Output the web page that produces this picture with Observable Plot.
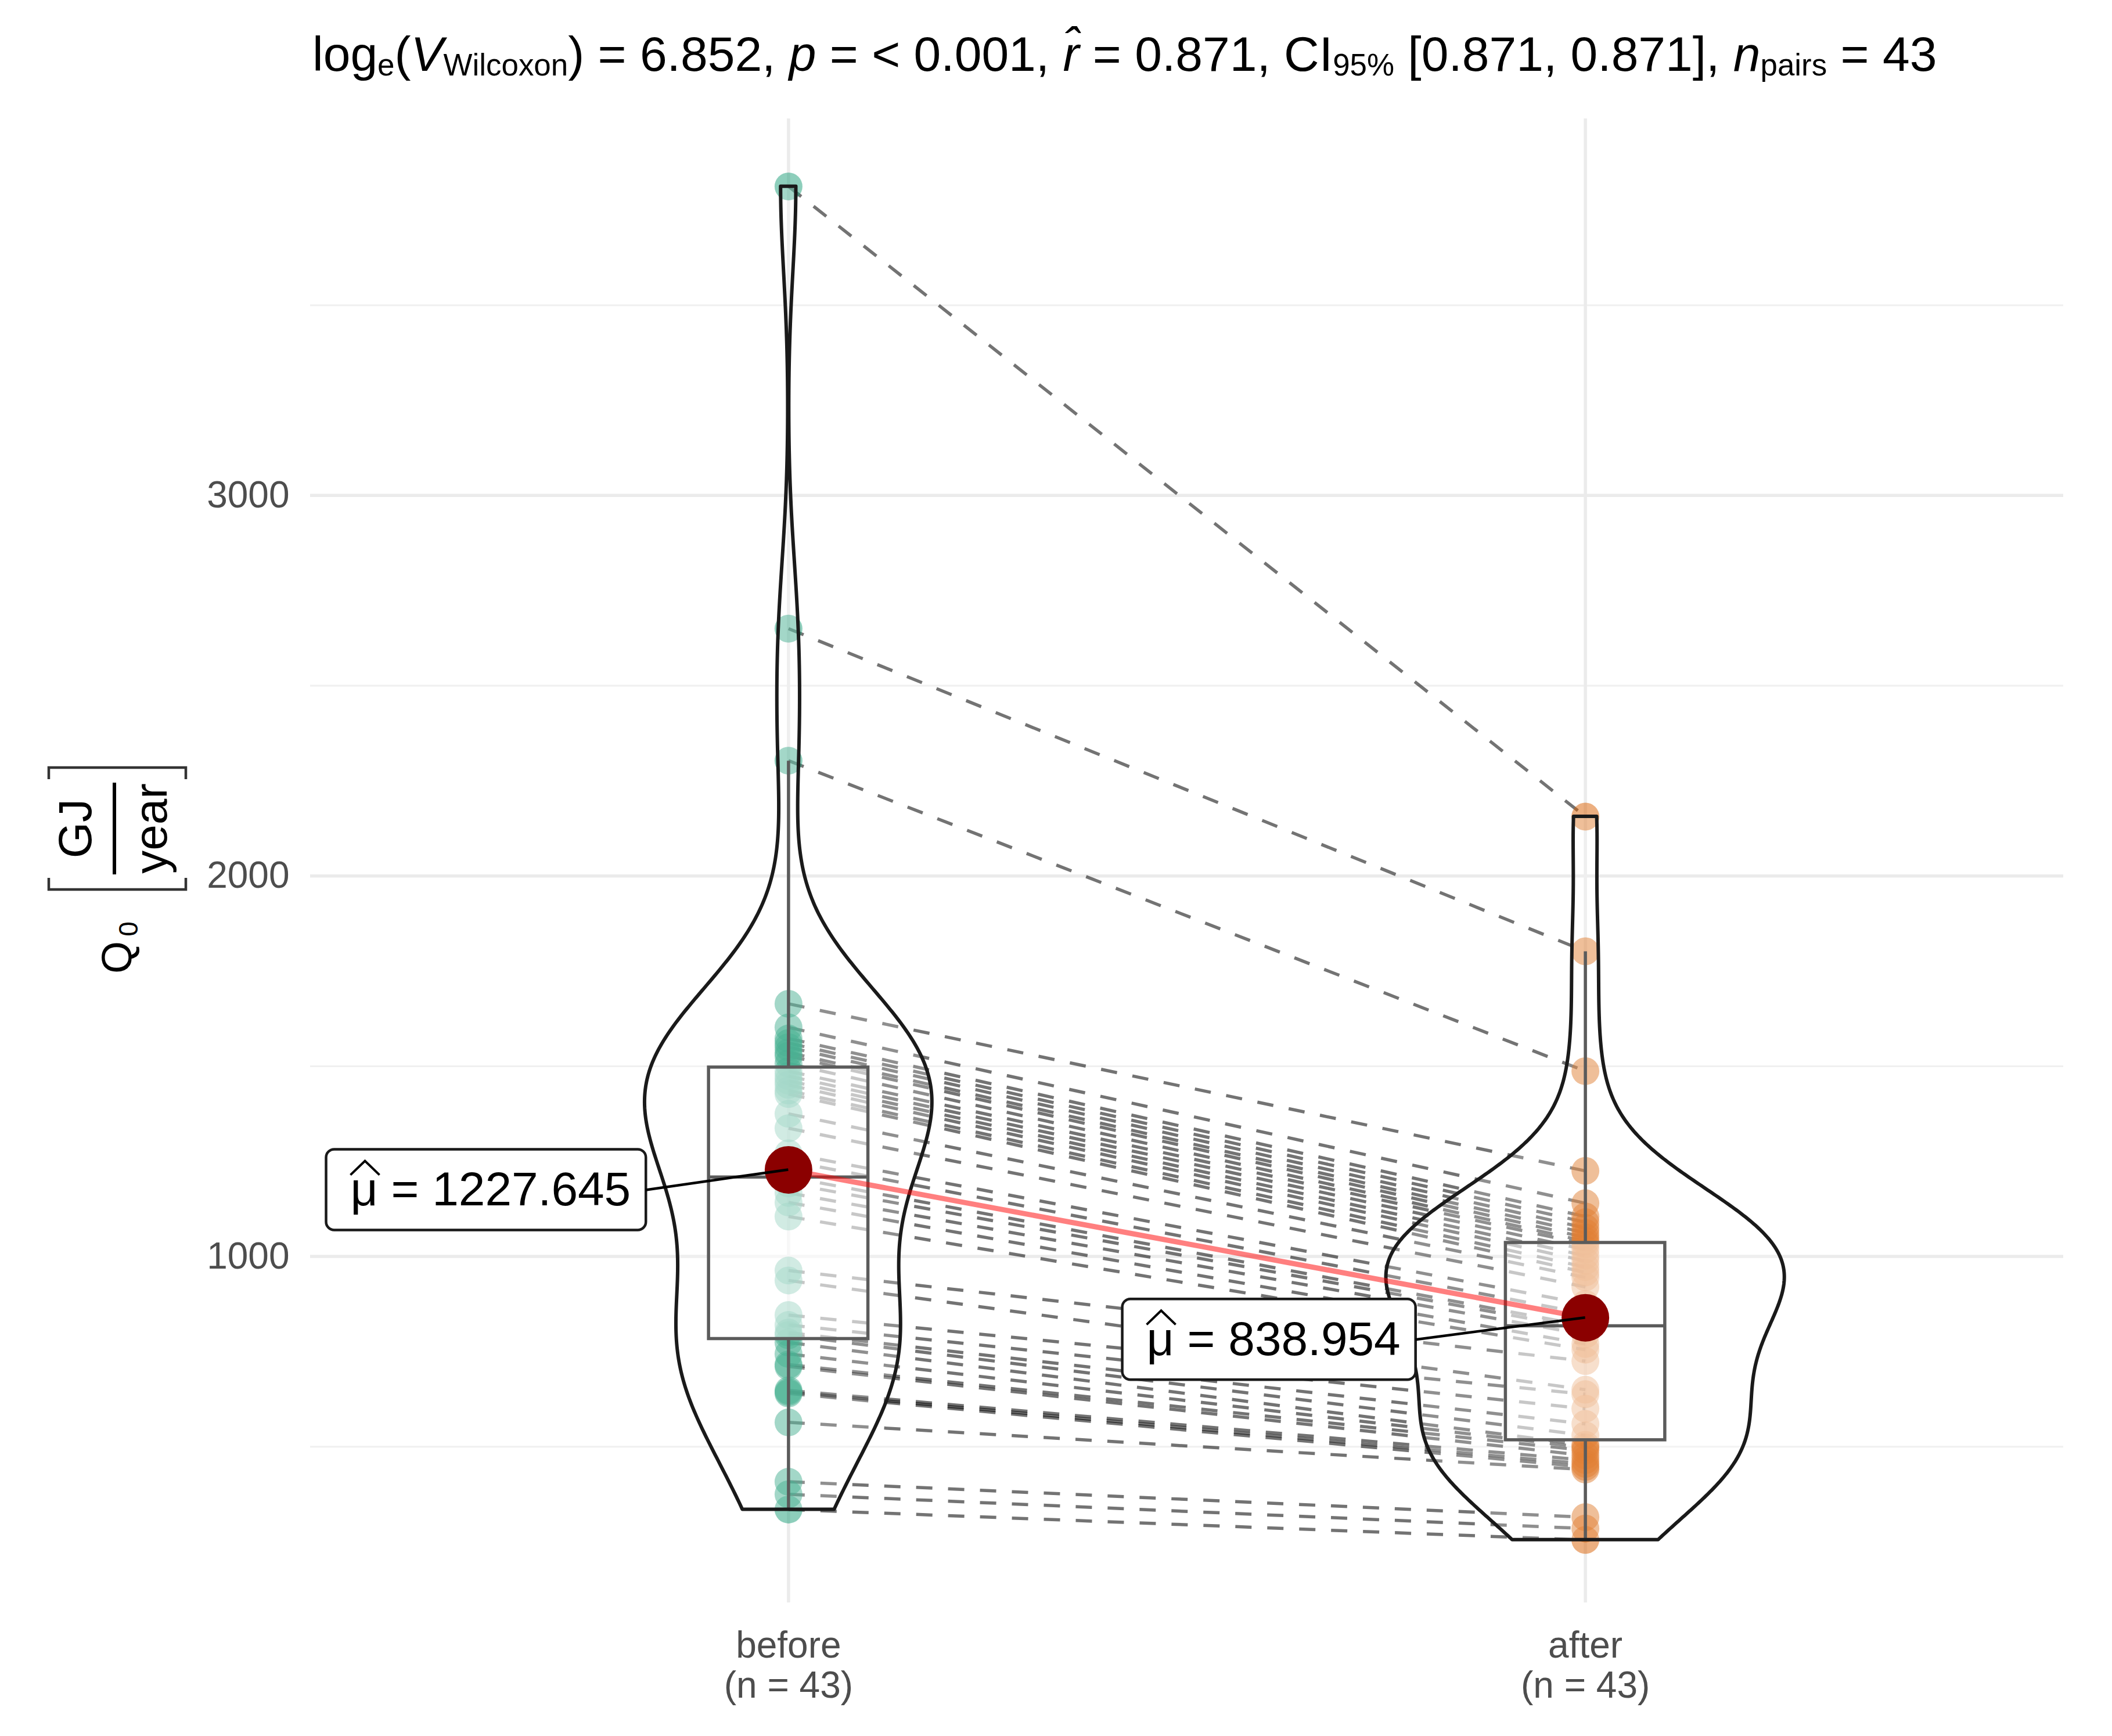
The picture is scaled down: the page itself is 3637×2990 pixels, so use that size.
<!DOCTYPE html>
<html><head><meta charset="utf-8">
<script src="https://cdn.jsdelivr.net/npm/d3@7"></script>
<script src="https://cdn.jsdelivr.net/npm/@observablehq/plot@0.6"></script>
<style>
html,body{margin:0;padding:0;background:#fff;}
#title{height:190px;box-sizing:border-box;padding-left:538px;padding-top:51px;font-family:"Liberation Sans",Arial,sans-serif;font-size:84px;line-height:1;white-space:nowrap;color:#000;}
#title sub{font-size:0.63em;vertical-align:-8px;line-height:0;}
#chart svg{display:block;}
</style></head><body>
<div id="title">log<sub>e</sub>(<i>V</i><sub>Wilcoxon</sub>) = 6.852, <i>p</i> = &lt; 0.001, <i>r&#770;</i> = 0.871, CI<sub>95%</sub> [0.871, 0.871], <i>n</i><sub>pairs</sub> = 43</div>
<div id="chart"></div>
<script>
// ---- data (paired: before[i] -> after[i]) ----
const groups = ["before", "after"];
const groupCounts = ["(n = 43)", "(n = 43)"];
const groupColors = ["#1B9E77", "#D95F02"];
const before = [3812, 2650, 2303, 1664, 1602, 1573, 1561, 1550, 1536, 1527, 1507, 1487, 1474, 1462, 1451, 1436, 1427, 1375, 1337, 1271, 1251,
  1209, 1192, 1167, 1142, 1105, 963, 937, 846, 820, 800, 793, 774, 744, 716, 711, 648, 644, 640, 564, 408, 375, 335];
const after = [2156, 1802, 1487, 1225, 1140, 1105, 1090, 1075, 1062, 1050, 1040, 1032, 1018, 1002, 988, 972, 958, 945, 920, 875, 850,
  818, 810, 795, 770, 755, 725, 650, 638, 600, 560, 530, 505, 498, 490, 477, 465, 455, 447, 440, 315, 285, 255];
const meanLabels = ["1227.645", "838.954"];
const yTicks = [1000, 2000, 3000];
const yMinorGrid = [500, 1500, 2500, 3500];

const FONT = '"Liberation Sans", Arial, sans-serif';
const series = [before, after];

function boxStats(v) {
  const s = v.slice().sort(d3.ascending);
  const q1 = d3.quantileSorted(s, 0.25), med = d3.quantileSorted(s, 0.5), q3 = d3.quantileSorted(s, 0.75);
  const iqr = q3 - q1;
  return {q1, med, q3, hi: d3.max(s.filter(x => x <= q3 + 1.5 * iqr)), lo: d3.min(s.filter(x => x >= q1 - 1.5 * iqr))};
}
function bwNrd0(v) {
  const s = v.slice().sort(d3.ascending);
  const iqr = d3.quantileSorted(s, 0.75) - d3.quantileSorted(s, 0.25);
  return 0.9 * Math.min(d3.deviation(v), iqr / 1.34) * Math.pow(v.length, -0.2);
}
function kde(v, n = 512) {
  const bw = bwNrd0(v), [mn, mx] = d3.extent(v), out = [];
  for (let i = 0; i < n; i++) {
    const y = mn + (mx - mn) * i / (n - 1);
    let s = 0;
    for (const x of v) { const z = (y - x) / bw; s += Math.exp(-0.5 * z * z); }
    out.push({y, d: s / (v.length * bw * Math.sqrt(2 * Math.PI))});
  }
  return out;
}

const dens = series.map(v => kde(v));
const maxD = d3.max(dens.flat(), d => d.d);
const violinRows = dens.flatMap((arr, g) => arr.map(p => ({g, y: p.y, x1: g + 1 - 0.25 * p.d / maxD, x2: g + 1 + 0.25 * p.d / maxD})));
const boxes = series.map((v, g) => ({g, pos: g + 1, ...boxStats(v)}));
const means = series.map((v, g) => ({g, pos: g + 1, m: d3.mean(v)}));
const pairRows = before.map((b, i) => ({b, a: after[i]}));
const pointRows = series.map((v, g) => v.map(val => ({pos: g + 1, v: val})));
const labelDx = [-513, -537], labelDy = [35, 38];

const plot = Plot.plot({
  width: 3637, height: 2800,
  marginLeft: 534, marginRight: 84, marginTop: 14, marginBottom: 230,
  x: {domain: [0.4, 2.6], axis: null},
  y: {domain: [90, 3990], axis: null},
  style: {fontFamily: FONT, background: "white", overflow: "visible"},
  marks: [
    Plot.ruleY(yMinorGrid, {stroke: "#F0F0F0", strokeWidth: 3}),
    Plot.ruleY(yTicks, {stroke: "#EBEBEB", strokeWidth: 5.5}),
    Plot.ruleX([1, 2], {stroke: "#EBEBEB", strokeWidth: 5.5}),
    Plot.text(yTicks, {y: d => d, text: d => String(d), frameAnchor: "left", textAnchor: "end", dx: -36, fontSize: 64, fill: "#4D4D4D"}),
    Plot.text(groups, {x: (d, i) => i + 1, text: d => d, frameAnchor: "bottom", dy: 94, fontSize: 64, fill: "#4D4D4D"}),
    Plot.text(groupCounts, {x: (d, i) => i + 1, text: d => d, frameAnchor: "bottom", dy: 163, fontSize: 64, fill: "#4D4D4D"}),
    // paired dashed paths
    Plot.link(pairRows, {x1: () => 1, y1: "b", x2: () => 2, y2: "a", stroke: "black", strokeOpacity: 0.55, strokeWidth: 5.5, strokeDasharray: "28,27"}),
    // points
    Plot.dot(pointRows[0], {x: "pos", y: "v", r: 24, fill: groupColors[0], fillOpacity: 0.5}),
    Plot.dot(pointRows[1], {x: "pos", y: "v", r: 24, fill: groupColors[1], fillOpacity: 0.5}),
    // boxplots
    Plot.link(boxes, {x1: "pos", x2: "pos", y1: "q3", y2: "hi", stroke: "#333", strokeWidth: 5.5}),
    Plot.link(boxes, {x1: "pos", x2: "pos", y1: "q1", y2: "lo", stroke: "#333", strokeWidth: 5.5}),
    Plot.rect(boxes, {x1: d => d.pos - 0.1, x2: d => d.pos + 0.1, y1: "q1", y2: "q3", fill: "white", fillOpacity: 0.5, stroke: "#333", strokeWidth: 5.5}),
    Plot.link(boxes, {x1: d => d.pos - 0.1, x2: d => d.pos + 0.1, y1: "med", y2: "med", stroke: "#333", strokeWidth: 5.5}),
    // violins
    Plot.areaX(violinRows, {y: "y", x1: "x1", x2: "x2", z: "g", fill: "white", fillOpacity: 0.2, stroke: "#1a1a1a", strokeWidth: 6}),
    // centrality path and points
    Plot.line(means, {x: "pos", y: "m", stroke: "red", strokeOpacity: 0.5, strokeWidth: 9}),
    Plot.dot(means, {x: "pos", y: "m", r: 41, fill: "#8B0000"}),
    Plot.text([means[0]], {x: "pos", y: "m", text: () => "\u03BC = " + meanLabels[0], dx: labelDx[0], dy: labelDy[0], fontSize: 82, fill: "black"}),
    Plot.text([means[1]], {x: "pos", y: "m", text: () => "\u03BC = " + meanLabels[1], dx: labelDx[1], dy: labelDy[1], fontSize: 82, fill: "black"})
  ]
});
document.getElementById("chart").append(plot);

// label boxes, hats and connectors
const sx = plot.scale("x"), sy = plot.scale("y");
const svgRect = plot.getBoundingClientRect();
const overlay = d3.select(plot).append("g");
const labelGroups = [];
const hats = [];
means.forEach((mm, i) => {
  const t = Array.from(plot.querySelectorAll("text")).find(el => el.textContent.includes(meanLabels[i]));
  if (!t) return;
  labelGroups.push(t.parentNode);
  const r = t.getBoundingClientRect();
  const left = r.left - svgRect.left - 42, right = r.right - svgRect.left + 26;
  const cy = sy.apply(mm.m) + labelDy[i];
  overlay.append("rect").attr("x", left).attr("y", cy - 70).attr("width", right - left).attr("height", 139)
    .attr("rx", 14).attr("fill", "white").attr("stroke", "#1a1a1a").attr("stroke-width", 4.5);
  hats.push([r.left - svgRect.left + 25, cy + 0.32 * 82]);
  overlay.append("line").attr("x1", right).attr("y1", cy).attr("x2", sx.apply(mm.pos)).attr("y2", sy.apply(mm.m))
    .attr("stroke", "black").attr("stroke-width", 4.5);
});
labelGroups.forEach(g => plot.appendChild(g));
const hatLayer = d3.select(plot).append("g");
hats.forEach(([hx, base]) => {
  hatLayer.append("path").attr("d", `M${hx - 25},${base - 52} L${hx},${base - 76} L${hx + 25},${base - 52}`)
    .attr("fill", "none").attr("stroke", "black").attr("stroke-width", 4);
});

// y-axis title: Q0 [GJ / year]
const gl = d3.select(plot).append("g").attr("transform", `translate(226, ${1649 - 190}) rotate(-90)`)
  .attr("font-family", FONT).attr("fill", "black");
gl.append("text").attr("x", 0).attr("y", 0).attr("font-size", 72).text("Q");
gl.append("text").attr("x", 49).attr("y", 11).attr("font-size", 46).text("0");
gl.append("path").attr("d", "M137,-142 H117 V94 H137 M307,-142 H327 V94 H307")
  .attr("fill", "none").attr("stroke", "#333").attr("stroke-width", 4.5);
gl.append("line").attr("x1", 143).attr("x2", 301).attr("y1", -29).attr("y2", -29).attr("stroke", "black").attr("stroke-width", 6);
gl.append("text").attr("x", 222).attr("y", -69).attr("text-anchor", "middle").attr("font-size", 80).text("GJ");
gl.append("text").attr("x", 222).attr("y", 61).attr("text-anchor", "middle").attr("font-size", 80).text("year");
</script>
</body></html>
